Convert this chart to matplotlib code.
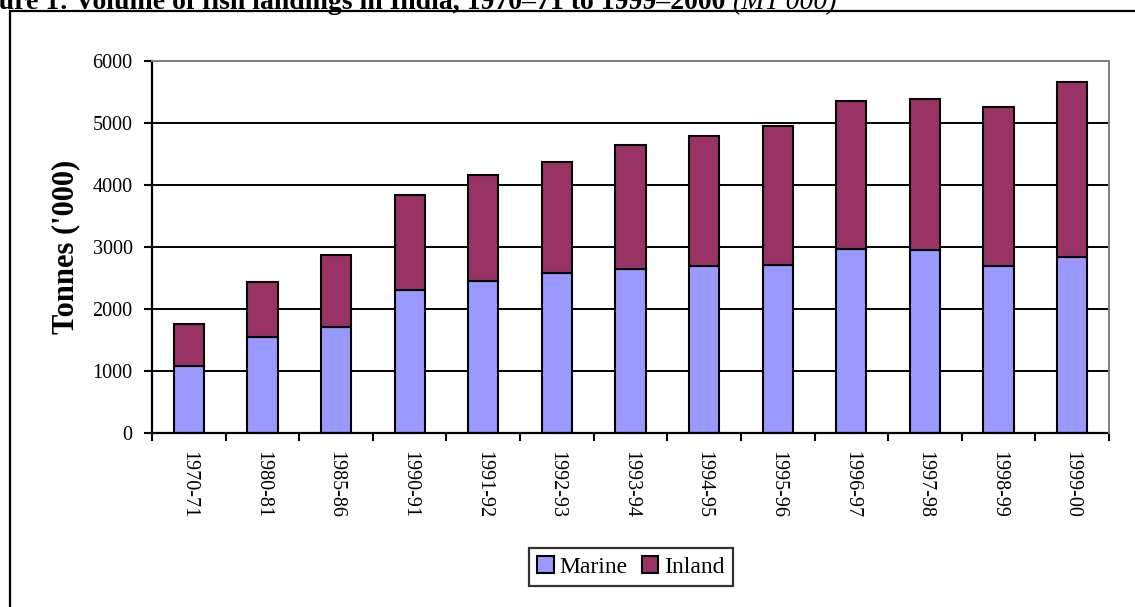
import numpy as np
import matplotlib
matplotlib.use("Agg")
import matplotlib.pyplot as plt
from matplotlib.patches import Rectangle

# Data (MT '000)
seasons = ['1970-71', '1980-81', '1985-86', '1990-91', '1991-92', '1992-93',
           '1993-94', '1994-95', '1995-96', '1996-97', '1997-98', '1998-99',
           '1999-00']
marine = [1086, 1555, 1716, 2300, 2447, 2576, 2649, 2692, 2707, 2967, 2950,
          2696, 2834]
inland = [670, 887, 1160, 1536, 1710, 1789, 1995, 2097, 2242, 2381, 2438,
          2566, 2823]
yticks = [0, 1000, 2000, 3000, 4000, 5000, 6000]

MARINE_COLOR = '#9999FF'
INLAND_COLOR = '#993366'

plt.rcParams['font.family'] = ['Liberation Serif', 'DejaVu Serif']

W, H = 1135, 607
fig = plt.figure(figsize=(W / 100, H / 100), dpi=100)

# outer frame of the figure box (runs off the right and bottom edges)
fig.patches.append(Rectangle((9.5 / W, -1), 2.0, 2 - 11 / H, transform=fig.transFigure,
                             fill=False, edgecolor='black', linewidth=1.6))

ax = fig.add_axes([152 / W, 1 - 433 / H, (1109 - 152) / W, (433 - 61) / H])

x = np.arange(len(seasons))
width = 0.41
ax.bar(x, marine, width, color=MARINE_COLOR, edgecolor='black', linewidth=1.5,
       label='Marine', zorder=2)
ax.bar(x, inland, width, bottom=marine, color=INLAND_COLOR, edgecolor='black',
       linewidth=1.5, label='Inland', zorder=2)

ax.set_xlim(-0.5, len(seasons) - 0.5)
ax.set_ylim(0, 6000)
ax.set_yticks(yticks)
ax.set_yticklabels([str(v) for v in yticks], fontsize=14.5)
ax.yaxis.grid(True, color='black', linewidth=1.4, zorder=0)
ax.set_axisbelow(True)

# category labels at the bar centres, tick marks on the category boundaries
ax.set_xticks(x)
ax.set_xticklabels(seasons, rotation=270, fontsize=14.5, va='top', ha='center')
ax.set_xticks(np.arange(len(seasons) + 1) - 0.5, minor=True)
ax.tick_params(axis='x', which='major', length=0, pad=13)
ax.tick_params(axis='x', which='minor', length=6, width=1.5, direction='out')
ax.tick_params(axis='y', length=6, width=1.5, direction='out', pad=8)

for side in ['left', 'bottom']:
    ax.spines[side].set_color('black')
    ax.spines[side].set_linewidth(1.6)
for side in ['top', 'right']:
    ax.spines[side].set_color('#808080')
    ax.spines[side].set_linewidth(1.4)
    ax.spines[side].set_zorder(3)

ax.set_ylabel("Tonnes ('000)", fontsize=22, fontweight='bold')
ax.yaxis.set_label_coords(-0.075, 0.5)

leg = fig.legend(loc='center', bbox_to_anchor=(631 / W, 1 - 567 / H), ncol=2,
                 fontsize=17, frameon=True, fancybox=False, handlelength=0.7,
                 handleheight=0.7, handletextpad=0.25, columnspacing=0.6,
                 borderpad=0.35, borderaxespad=0)
leg.get_frame().set_edgecolor('black')
leg.get_frame().set_linewidth(1.6)

# title, partly cut off at the top-left like the reference
t1 = fig.text(-40 / W, 1 - 9 / H,
              'Figure 1: Volume of fish landings in India, 1970\u201371 to 1999\u20132000 ',
              fontsize=20, fontweight='bold', va='baseline', ha='left')
fig.canvas.draw()
bb = t1.get_window_extent(fig.canvas.get_renderer())
fig.text(bb.x1 / W, 1 - 9 / H, "(MT'000)", fontsize=20, style='italic',
         va='baseline', ha='left')

fig.savefig('out.png', dpi=100)
